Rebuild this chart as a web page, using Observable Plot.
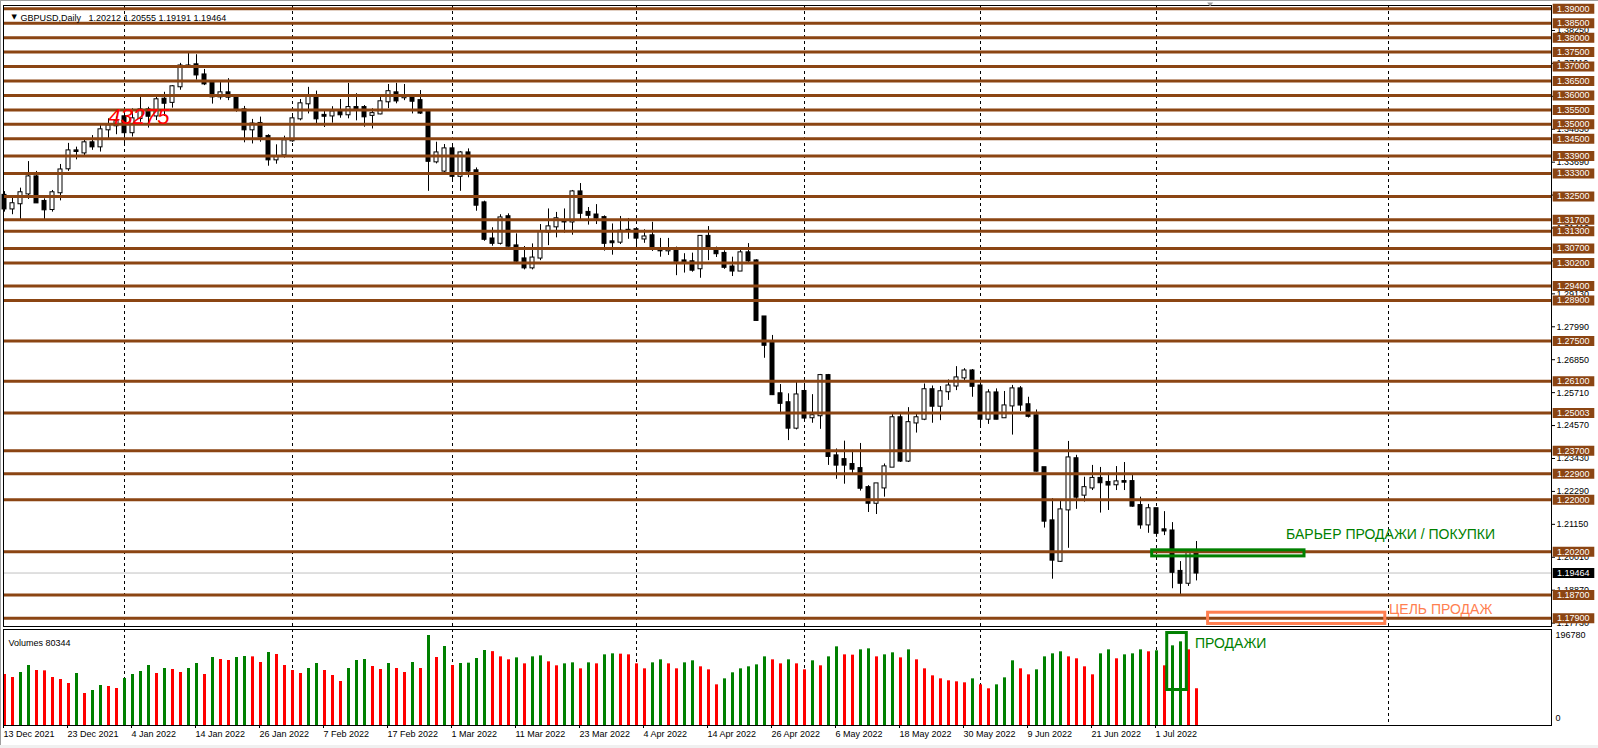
<!DOCTYPE html>
<html>
<head>
<meta charset="utf-8">
<script src="https://cdn.jsdelivr.net/npm/d3@7"></script>
<script src="https://cdn.jsdelivr.net/npm/@observablehq/plot@0.6"></script>
<style>
html,body{margin:0;padding:0;background:#fff;overflow:hidden;}
#wrap{position:relative;width:1598px;height:748px;overflow:hidden;background:#fff;font-family:"Liberation Sans",Arial,sans-serif;}
#price{position:absolute;left:0;top:0;}
#vol{position:absolute;left:0;top:628px;}
#topline{position:absolute;left:0;top:0;width:1598px;height:1px;background:#a0a0a0;}
#leftline{position:absolute;left:0;top:0;width:1px;height:748px;background:#a0a0a0;}
#bottomband{position:absolute;left:0;top:745px;width:1598px;height:3px;background:#f0f0f0;}
svg{overflow:visible;}
</style>
</head>
<body>
<div id="wrap"><div id="price"></div><div id="vol"></div><div id="topline"></div><div id="leftline"></div><div id="bottomband"></div></div>
<script>
// ---------- data ----------
const symbolName = "GBPUSD";
const periodName = "Daily";

const open = [
1.3254,1.3207,1.3225,1.3259,1.3318,1.3233,1.3205,1.3263,1.3346,1.3408,
1.3401,1.3436,1.3422,1.3481,1.3495,1.3526,1.3471,1.3520,1.3550,1.3529,
1.3587,1.3576,1.3630,1.3702,1.3706,1.3671,1.3644,1.3595,1.3609,1.3596,
1.3550,1.3481,1.3503,1.3458,1.3377,1.3394,1.3443,1.3519,1.3571,1.3596,
1.3531,1.3529,1.3543,1.3533,1.3558,1.3558,1.3531,1.3536,1.3578,1.3609,
1.3592,1.3596,1.3582,1.3542,1.3370,1.3338,1.3415,1.3320,1.3401,1.3339,
1.3228,1.3103,1.3088,1.3180,1.3079,1.3034,1.3003,1.3037,1.3127,1.3145,
1.3165,1.3162,1.3266,1.3195,1.3186,1.3177,1.3093,1.3092,1.3133,1.3135,
1.3103,1.3114,1.3069,1.3062,1.3069,1.3027,1.3024,1.3000,1.3112,1.3069,
1.3053,1.3006,1.2992,1.3055,1.3027,1.2833,1.2741,1.2567,1.2536,1.2448,
1.2575,1.2484,1.2491,1.2630,1.2352,1.2339,1.2322,1.2308,1.2242,1.2188,
1.2241,1.2313,1.2484,1.2334,1.2466,1.2479,1.2581,1.2524,1.2574,1.2594,
1.2622,1.2646,1.2594,1.2479,1.2570,1.2484,1.2525,1.2584,1.2529,1.2491,
1.2311,1.2127,1.1987,1.2165,1.2342,1.2216,1.2241,1.2274,1.2260,1.2252,
1.2263,1.2263,1.2180,1.2113,1.2169,1.2096,1.2092,1.1952,1.1911,1.20212];

const high = [
1.3267,1.3251,1.3279,1.3371,1.3337,1.3242,1.3271,1.3361,1.3434,1.3421,
1.3445,1.3461,1.3496,1.3519,1.3525,1.3542,1.3554,1.3594,1.3559,1.3594,
1.3611,1.3634,1.3711,1.3750,1.3741,1.3690,1.3651,1.3648,1.3658,1.3600,
1.3562,1.3517,1.3525,1.3464,1.3429,1.3459,1.3531,1.3586,1.3628,1.3615,
1.3547,1.3561,1.3586,1.3642,1.3606,1.3565,1.3554,1.3598,1.3638,1.3642,
1.3638,1.3603,1.3617,1.3546,1.3438,1.3430,1.3432,1.3406,1.3415,1.3349,
1.3234,1.3142,1.3187,1.3190,1.3121,1.3077,1.3086,1.3153,1.3207,1.3195,
1.3207,1.3271,1.3295,1.3212,1.3222,1.3183,1.3155,1.3181,1.3174,1.3136,
1.3135,1.3161,1.3105,1.3105,1.3075,1.3052,1.3054,1.3115,1.3146,1.3075,
1.3062,1.3040,1.3065,1.3087,1.3031,1.2834,1.2769,1.2599,1.2567,1.2609,
1.2598,1.2564,1.2634,1.2634,1.2376,1.2403,1.2371,1.2395,1.2249,1.2256,
1.2324,1.2495,1.2495,1.2519,1.2495,1.2601,1.2594,1.2592,1.2615,1.2661,
1.2654,1.2651,1.2622,1.2581,1.2584,1.2575,1.2596,1.2592,1.2555,1.2511,
1.2312,1.2204,1.2200,1.2402,1.2354,1.2278,1.2319,1.2312,1.2292,1.2315,
1.2329,1.2287,1.2209,1.2184,1.2170,1.2159,1.2121,1.1986,1.2027,1.20555];

const low = [
1.3196,1.3187,1.3170,1.3240,1.3226,1.3170,1.3196,1.3235,1.3337,1.3377,
1.3386,1.3410,1.3404,1.3450,1.3464,1.3427,1.3456,1.3507,1.3487,1.3513,
1.3527,1.3556,1.3618,1.3699,1.3653,1.3634,1.3570,1.3584,1.3582,1.3542,
1.3436,1.3432,1.3438,1.3355,1.3362,1.3383,1.3438,1.3512,1.3536,1.3501,
1.3489,1.3504,1.3521,1.3519,1.3512,1.3490,1.3484,1.3533,1.3554,1.3571,
1.3582,1.3536,1.3534,1.3268,1.3363,1.3331,1.3300,1.3268,1.3315,1.3199,
1.3095,1.3078,1.3082,1.3075,1.3020,1.2996,1.2996,1.3028,1.3080,1.3107,
1.3123,1.3116,1.3169,1.3151,1.3153,1.3061,1.3047,1.3084,1.3102,1.3075,
1.3088,1.3060,1.3040,1.3046,1.2976,1.2985,1.2988,1.2967,1.3028,1.3039,
1.2998,1.2973,1.2991,1.3015,1.2818,1.2690,1.2561,1.2495,1.2405,1.2442,
1.2469,1.2465,1.2444,1.2319,1.2271,1.2254,1.2284,1.2230,1.2156,1.2149,
1.2209,1.2312,1.2329,1.2329,1.2431,1.2474,1.2465,1.2474,1.2544,1.2578,
1.2611,1.2555,1.2449,1.2461,1.2477,1.2483,1.2424,1.2506,1.2483,1.2296,
1.2102,1.1925,1.1983,1.2032,1.2167,1.2192,1.2232,1.2154,1.2163,1.2232,
1.2232,1.2174,1.2098,1.2084,1.2070,1.2076,1.1892,1.1868,1.1900,1.19191];

const close = [
1.3207,1.3225,1.3263,1.3318,1.3228,1.3204,1.3263,1.3342,1.3408,1.3406,
1.3436,1.3422,1.3481,1.3495,1.3511,1.3471,1.3519,1.3550,1.3528,1.3585,
1.3573,1.3630,1.3702,1.3700,1.3671,1.3640,1.3595,1.3609,1.3594,1.3549,
1.3481,1.3501,1.3456,1.3377,1.3387,1.3443,1.3519,1.3571,1.3596,1.3519,
1.3528,1.3543,1.3533,1.3558,1.3554,1.3526,1.3537,1.3578,1.3613,1.3581,
1.3595,1.3580,1.3539,1.3372,1.3401,1.3415,1.3320,1.3401,1.3338,1.3220,
1.3102,1.3088,1.3176,1.3078,1.3026,1.3003,1.3037,1.3127,1.3145,1.3173,
1.3162,1.3266,1.3192,1.3185,1.3175,1.3088,1.3090,1.3130,1.3131,1.3106,
1.3110,1.3068,1.3062,1.3069,1.3026,1.3024,1.2995,1.3112,1.3068,1.3052,
1.3005,1.2992,1.3055,1.3027,1.2821,1.2735,1.2564,1.2534,1.2448,1.2563,
1.2483,1.2491,1.2630,1.2350,1.2320,1.2320,1.2306,1.2240,1.2188,1.2255,
1.2314,1.2484,1.2334,1.2467,1.2484,1.2581,1.2524,1.2574,1.2594,1.2622,
1.2646,1.2593,1.2479,1.2570,1.2479,1.2525,1.2584,1.2528,1.2489,1.2299,
1.2126,1.1991,1.2165,1.2345,1.2209,1.2242,1.2274,1.2259,1.2251,1.2262,
1.2261,1.2178,1.2113,1.2169,1.2084,1.2092,1.1949,1.1911,1.2016,1.19464];

const volume = [
111500,104900,115900,131200,120300,119500,104900,100600,91800,113700,
70000,76500,87500,85300,80900,102800,111500,118100,131200,113700,
124600,122400,115900,124600,135600,111500,148700,144300,142100,148700,
150900,150100,137700,159600,155200,131200,120300,113700,124600,135600,
120300,109300,96200,124600,142100,144300,129000,122400,135600,124600,
115900,137700,124600,196780,148700,172700,131200,135600,136300,146500,
164000,161500,150100,143600,147900,134800,150100,152300,139200,130500,
134800,137000,123900,137000,134800,154500,156700,156000,154500,134800,
123900,137000,143600,134800,123900,137000,141400,128300,121700,88900,
102000,115200,123900,128300,132600,150100,143600,134800,143600,134800,
121700,141400,130500,150100,172000,154500,153800,165400,167600,150100,
154500,158900,147900,165400,143600,123900,108600,102000,97700,95500,
93300,102000,88900,80200,88900,104200,141400,123900,110800,121700,
150100,156700,161100,150100,145800,128300,110800,156700,165400,145800,
154500,156700,165400,161100,163300,130500,174200,182900,165400,80344];
const volumeScaleMax = 196780;

const dateTickLabels = ["13 Dec 2021","23 Dec 2021","4 Jan 2022","14 Jan 2022","26 Jan 2022","7 Feb 2022","17 Feb 2022","1 Mar 2022","11 Mar 2022","23 Mar 2022","4 Apr 2022","14 Apr 2022","26 Apr 2022","6 May 2022","18 May 2022","30 May 2022","9 Jun 2022","21 Jun 2022","1 Jul 2022"];
const dateTickBars = [0,8,16,24,32,40,48,56,64,72,80,88,96,104,112,120,128,136,144];
const monthStartBars = [15,36,56,79,100,122,144,173];
const chartShiftBar = 150.7;

const levels = [1.39,1.385,1.38,1.375,1.37,1.365,1.36,1.355,1.35,1.345,1.339,1.333,1.325,1.317,1.313,1.307,1.302,1.294,1.289,1.275,1.261,1.25003,1.237,1.229,1.22,1.202,1.187,1.179];
const priceTicks = [1.1773,1.1887,1.2001,1.2115,1.2229,1.2343,1.2457,1.2571,1.2685,1.2799,1.2913,1.3027,1.3141,1.3255,1.3369,1.3483,1.3597,1.3711,1.3825];

// annotations (bar index / price or volume anchors, as in the terminal objects)
const barrierZone = {x1: 143.46, x2: 162.5, y1: 1.2004, y2: 1.2025};
const barrierText = {x: 160.2, y: 1.2080, text: "БАРЬЕР ПРОДАЖИ / ПОКУПКИ"};
const targetZone = {x1: 150.45, x2: 172.6, y1: 1.1770, y2: 1.1809};
const targetText = {x: 173.06, y: 1.1821, text: "ЦЕЛЬ ПРОДАЖ"};
const salesZone = {x1: 145.34, x2: 147.79, y1: 77600, y2: 202200};
const salesText = {x: 148.8, y: 179300, text: "ПРОДАЖИ"};
const redNote = {x: 16.8, y: 1.3525, text: "43275"};

// ---------- styles ----------
const BROWN = "#8B4513", GREEN = "#008000", RED = "#ff0000", CORAL = "#ff7f50";
const FONT = "'Liberation Sans', Arial, sans-serif";
const W = 1598;
const N = open.length;
const fmt5 = d3.format(".5f");
const xScale = {type: "linear", domain: [0, N - 1], range: [4, 4 + 8 * (N - 1)]};

const bars = open.map((o, i) => ({i, o, h: high[i], l: low[i], c: close[i]}));
const volBars = volume.map((v, i) => ({i, v, color: i > 0 && v > volume[i - 1] ? GREEN : RED}));
const last = close[N - 1];

const boxSymbol = {draw(ctx) { ctx.moveTo(1.2, -5); ctx.lineTo(42.8, -5); ctx.lineTo(42.8, 5); ctx.lineTo(1.2, 5); ctx.closePath(); }};
const shiftSymbol = {draw(ctx) { ctx.moveTo(-3, -2); ctx.lineTo(3, -2); ctx.lineTo(0, 2); ctx.closePath(); }};

const header = `${symbolName},${periodName}\u00a0\u00a0\u00a0${fmt5(open[N-1])} ${fmt5(high[N-1])} ${fmt5(low[N-1])} ${fmt5(close[N-1])}`;

const pricePlot = Plot.plot({
  width: W, height: 628,
  marginLeft: 3, marginRight: 47, marginTop: 5, marginBottom: 2,
  x: {...xScale, axis: null},
  y: {type: "linear", domain: [1.179, 1.39], range: [617.7, 8.3], axis: null},
  color: {type: "identity"},
  style: {fontFamily: FONT, fontSize: "9px", background: "transparent", color: "#000"},
  marks: [
    Plot.ruleX(monthStartBars, {x: d => d, stroke: "#000", strokeDasharray: "3,3", strokeWidth: 1}),
    Plot.ruleY([last], {y: d => d, stroke: "#c0c0c0"}),
    Plot.ruleX(bars, {x: "i", y1: "l", y2: "h", stroke: "#000", strokeWidth: 1}),
    Plot.rect(bars, {x1: d => d.i - 0.25, x2: d => d.i + 0.25,
      y1: d => Math.min(d.o, d.c), y2: d => Math.max(d.o, d.c),
      insetTop: -0.5, insetBottom: -0.5,
      fill: d => d.c > d.o ? "#fff" : "#000", stroke: "#000", strokeWidth: 1}),
    Plot.ruleY(levels, {y: d => d, stroke: BROWN, strokeWidth: 3}),
    Plot.text([redNote], {x: "x", y: "y", text: "text", fill: RED, fontSize: 22, fontStyle: "italic", fontFamily: FONT}),
    Plot.rect([barrierZone], {x1: "x1", x2: "x2", y1: "y1", y2: "y2", fill: "none", stroke: GREEN, strokeWidth: 3}),
    Plot.text([barrierText], {x: "x", y: "y", text: "text", textAnchor: "start", fill: GREEN, fontSize: 14}),
    Plot.rect([targetZone], {x1: "x1", x2: "x2", y1: "y1", y2: "y2", fill: "none", stroke: CORAL, strokeWidth: 3}),
    Plot.text([targetText], {x: "x", y: "y", text: "text", textAnchor: "start", fill: CORAL, fontSize: 14}),
    Plot.frame({stroke: "#000"}),
    Plot.dot([chartShiftBar], {x: d => d, frameAnchor: "top", dy: -1, symbol: shiftSymbol, fill: "#a0a0a0", r: 3}),
    Plot.axisY({ticks: priceTicks, anchor: "right", tickSize: 3, tickPadding: 2, tickFormat: fmt5, label: null, fontSize: 9}),
    Plot.dot(levels, {y: d => d, frameAnchor: "right", symbol: boxSymbol, fill: BROWN, r: 5}),
    Plot.text(levels, {y: d => d, frameAnchor: "right", dx: 5.5, textAnchor: "start", text: d => fmt5(d), fill: "#fff", fontSize: 9}),
    Plot.dot([last], {y: d => d, frameAnchor: "right", symbol: boxSymbol, fill: "#000", r: 5}),
    Plot.text([last], {y: d => d, frameAnchor: "right", dx: 5.5, textAnchor: "start", text: d => fmt5(d), fill: "#fff", fontSize: 9}),
    Plot.text(["\u25BC"], {frameAnchor: "top-left", dx: 8, dy: 8.7, textAnchor: "start", fontSize: 7, fontFamily: "DejaVu Sans", fill: "#000"}),
    Plot.text([header], {frameAnchor: "top-left", dx: 17, dy: 8.7, textAnchor: "start", fontSize: 9, fill: "#000"})
  ]
});
document.getElementById("price").appendChild(pricePlot);

const volPlot = Plot.plot({
  width: W, height: 120,
  marginLeft: 3, marginRight: 47, marginTop: 1, marginBottom: 23,
  x: {...xScale, axis: null},
  y: {type: "linear", domain: [0, volumeScaleMax], range: [97, 7], axis: null},
  color: {type: "identity"},
  style: {fontFamily: FONT, fontSize: "9px", background: "transparent", color: "#000"},
  marks: [
    Plot.ruleX(monthStartBars, {x: d => d, stroke: "#000", strokeDasharray: "3,3", strokeWidth: 1}),
    Plot.ruleX(volBars, {x: "i", y1: 0, y2: "v", stroke: "color", strokeWidth: 3}),
    Plot.rect([salesZone], {x1: "x1", x2: "x2", y1: "y1", y2: "y2", fill: "none", stroke: GREEN, strokeWidth: 3}),
    Plot.text([salesText], {x: "x", y: "y", text: "text", textAnchor: "start", fill: GREEN, fontSize: 14}),
    Plot.frame({stroke: "#000"}),
    Plot.axisX({ticks: dateTickBars, anchor: "bottom", tickSize: 3, tickPadding: 2, textAnchor: "start", dx: -1,
      tickFormat: d => dateTickLabels[dateTickBars.indexOf(d)], label: null, fontSize: 9}),
    Plot.text(["Volumes " + volume[N - 1]], {frameAnchor: "top-left", dx: 5, dy: 10, textAnchor: "start", fontSize: 9, fill: "#000"}),
    Plot.text([volumeScaleMax], {y: d => d, frameAnchor: "right", dx: 4, textAnchor: "start", text: d => String(d), fontSize: 9, fill: "#000"}),
    Plot.text([0], {y: d => d, frameAnchor: "right", dx: 4, dy: -7, textAnchor: "start", text: d => String(d), fontSize: 9, fill: "#000"})
  ]
});
document.getElementById("vol").appendChild(volPlot);
</script>
</body>
</html>
